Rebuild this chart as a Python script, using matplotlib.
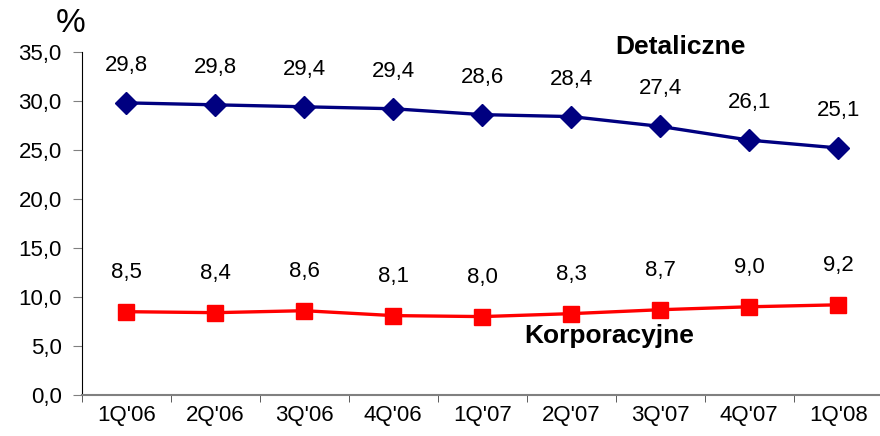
import numpy as np
import matplotlib.pyplot as plt
from matplotlib.ticker import FixedLocator, FuncFormatter

plt.rcParams['font.family'] = ['Liberation Sans', 'DejaVu Sans']

kwartaly = ["1Q'06", "2Q'06", "3Q'06", "4Q'06", "1Q'07", "2Q'07", "3Q'07", "4Q'07", "1Q'08"]
detaliczne = [29.8, 29.6, 29.4, 29.2, 28.6, 28.4, 27.4, 26.0, 25.2]
detaliczne_etyk = ["29,8", "29,8", "29,4", "29,4", "28,6", "28,4", "27,4", "26,1", "25,1"]
korporacyjne = [8.5, 8.4, 8.6, 8.1, 8.0, 8.3, 8.7, 9.0, 9.2]
korporacyjne_etyk = ["8,5", "8,4", "8,6", "8,1", "8,0", "8,3", "8,7", "9,0", "9,2"]

fig = plt.figure(figsize=(8.8, 4.36), dpi=100)
ax = fig.add_axes([0.093, 0.094, 0.91, 0.787])

x = np.arange(len(kwartaly))
ax.plot(x, detaliczne, color='#000080', lw=2.4, marker='D', ms=11, zorder=3)
ax.plot(x, korporacyjne, color='#FF0000', lw=2.4, marker='s', ms=11, zorder=3)

for xi, v, t in zip(x, detaliczne, detaliczne_etyk):
    ax.annotate(t, (xi, v), xytext=(0, 27), textcoords='offset points',
                ha='center', va='center', fontsize=16)
for xi, v, t in zip(x, korporacyjne, korporacyjne_etyk):
    ax.annotate(t, (xi, v), xytext=(0, 28), textcoords='offset points',
                ha='center', va='center', fontsize=16)

ax.text(5.5, 35.5, 'Detaliczne', fontsize=19, fontweight='bold', ha='left', va='center')
ax.text(4.47, 6.0, 'Korporacyjne', fontsize=19, fontweight='bold', ha='left', va='center')

ax.set_xlim(-0.5, len(kwartaly) - 0.5)
ax.set_ylim(0, 35)
ax.set_yticks(np.arange(0, 35.1, 5))
ax.yaxis.set_major_formatter(FuncFormatter(lambda v, p: f"{v:.1f}".replace('.', ',')))
ax.set_xticks(x)
ax.set_xticklabels(kwartaly)
ax.xaxis.set_minor_locator(FixedLocator(np.arange(-0.5, len(kwartaly), 1)))
ax.tick_params(axis='x', which='major', length=0, pad=7, labelsize=16)
ax.tick_params(axis='x', which='minor', length=5, color='#404040', direction='out')
ax.tick_params(axis='y', length=6.5, color='#808080', labelsize=16, pad=8)

for s in ['top', 'right']:
    ax.spines[s].set_visible(False)
ax.spines['left'].set_color('black')
ax.spines['bottom'].set_color('#808080')
ax.spines['bottom'].set_linewidth(1.5)

fig.text(0.08, 0.947, '%', fontsize=24, ha='center', va='center')

fig.savefig('out.png', dpi=100)
